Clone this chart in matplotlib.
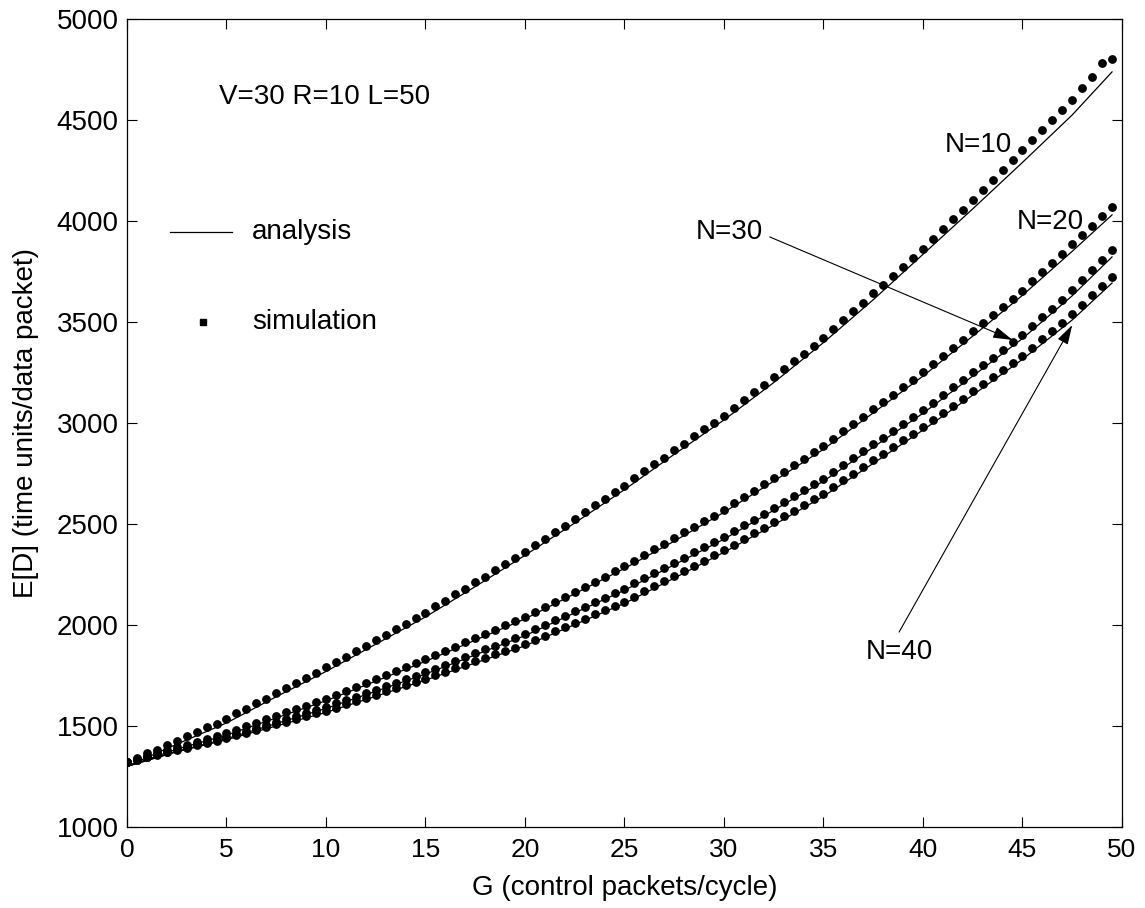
import numpy as np
import matplotlib
matplotlib.use('Agg')
import matplotlib.pyplot as plt

plt.rcParams['font.family'] = ['Liberation Sans', 'DejaVu Sans']

# simulation: G = 0, 0.5, ..., 49.5
G_SIM = np.arange(0, 50, 0.5)
SIM_N10 = [1322, 1340, 1365, 1383, 1408, 1428, 1450, 1470, 1495, 1512,
           1535, 1562, 1585, 1612, 1636, 1664, 1688, 1712, 1740, 1763,
           1790, 1818, 1843, 1872, 1898, 1925, 1952, 1980, 2005, 2034,
           2060, 2092, 2120, 2152, 2180, 2212, 2240, 2272, 2300, 2330,
           2360, 2395, 2426, 2460, 2492, 2525, 2558, 2592, 2624, 2658,
           2690, 2726, 2760, 2795, 2828, 2865, 2898, 2935, 2968, 3002,
           3035, 3075, 3112, 3152, 3190, 3228, 3266, 3306, 3342, 3382,
           3420, 3465, 3508, 3553, 3596, 3642, 3684, 3730, 3772, 3818,
           3860, 3910, 3958, 4008, 4056, 4106, 4154, 4204, 4252, 4302,
           4350, 4400, 4450, 4500, 4550, 4600, 4658, 4713, 4782, 4802]
SIM_N20 = [1322, 1336, 1351, 1365, 1379, 1394, 1408, 1422, 1436, 1451,
           1465, 1482, 1499, 1516, 1533, 1550, 1567, 1584, 1601, 1618,
           1635, 1655, 1674, 1694, 1713, 1733, 1752, 1772, 1791, 1811,
           1830, 1851, 1872, 1893, 1914, 1935, 1956, 1977, 1998, 2019,
           2040, 2065, 2090, 2115, 2140, 2165, 2190, 2215, 2240, 2265,
           2290, 2318, 2346, 2374, 2402, 2430, 2458, 2486, 2514, 2542,
           2570, 2602, 2633, 2665, 2696, 2728, 2759, 2791, 2822, 2854,
           2885, 2922, 2958, 2995, 3031, 3068, 3104, 3141, 3177, 3214,
           3250, 3291, 3331, 3372, 3412, 3453, 3493, 3534, 3574, 3615,
           3655, 3701, 3747, 3793, 3839, 3885, 3931, 3977, 4023, 4069]
SIM_N30 = [1322, 1334, 1347, 1359, 1372, 1384, 1396, 1409, 1421, 1434,
           1446, 1461, 1476, 1491, 1506, 1521, 1535, 1550, 1565, 1580,
           1595, 1612, 1629, 1646, 1663, 1680, 1697, 1714, 1731, 1748,
           1765, 1784, 1803, 1822, 1841, 1860, 1879, 1898, 1917, 1936,
           1955, 1978, 2000, 2023, 2045, 2068, 2090, 2113, 2135, 2158,
           2180, 2206, 2231, 2257, 2282, 2308, 2333, 2359, 2384, 2410,
           2435, 2464, 2493, 2522, 2551, 2580, 2609, 2638, 2667, 2696,
           2725, 2759, 2793, 2827, 2861, 2895, 2928, 2962, 2996, 3030,
           3064, 3101, 3138, 3176, 3213, 3250, 3287, 3324, 3362, 3399,
           3436, 3479, 3523, 3566, 3609, 3658, 3708, 3757, 3807, 3856]
SIM_N40 = [1322, 1334, 1346, 1357, 1369, 1381, 1393, 1405, 1416, 1428,
           1440, 1454, 1467, 1481, 1494, 1508, 1521, 1535, 1548, 1562,
           1575, 1591, 1607, 1623, 1639, 1655, 1671, 1687, 1703, 1719,
           1735, 1752, 1769, 1786, 1803, 1820, 1837, 1854, 1871, 1888,
           1905, 1926, 1947, 1968, 1989, 2010, 2031, 2052, 2073, 2094,
           2115, 2141, 2166, 2192, 2217, 2243, 2268, 2294, 2319, 2345,
           2370, 2398, 2426, 2454, 2482, 2510, 2538, 2566, 2594, 2622,
           2650, 2683, 2716, 2749, 2782, 2815, 2848, 2881, 2914, 2947,
           2980, 3015, 3050, 3086, 3121, 3156, 3191, 3226, 3262, 3297,
           3332, 3373, 3414, 3454, 3495, 3541, 3586, 3632, 3677, 3723]

# analysis curves
G_ANA = [0, 2.5, 5, 7.5, 10, 12.5, 15, 17.5, 20, 22.5, 25, 27.5, 30,
         32.5, 35, 37.5, 40, 42.5, 45, 47.5, 49.5]
ANA_N10 = [1300, 1410, 1515, 1645, 1770, 1905, 2040, 2190, 2345, 2505, 2670,
           2845, 3015, 3200, 3398, 3610, 3835, 4060, 4290, 4525, 4738]
ANA_N20 = [1300, 1385, 1455, 1540, 1625, 1722, 1820, 1925, 2030, 2155, 2280,
           2415, 2558, 2712, 2870, 3050, 3232, 3430, 3632, 3850, 4030]
ANA_N30 = [1300, 1375, 1437, 1512, 1587, 1672, 1757, 1852, 1947, 2060, 2172,
           2298, 2425, 2568, 2712, 2880, 3048, 3232, 3418, 3630, 3822]
ANA_N40 = [1300, 1372, 1432, 1500, 1567, 1647, 1727, 1812, 1897, 2002, 2107,
           2232, 2360, 2495, 2637, 2800, 2965, 3138, 3315, 3510, 3693]

FS = 20

fig = plt.figure(figsize=(11.45, 9.08), dpi=100)
ax = fig.add_axes([0.1109, 0.0892, 0.8690, 0.8899])

for ana in [ANA_N10, ANA_N20, ANA_N30, ANA_N40]:
    ax.plot(G_ANA, ana, color='black', linewidth=0.9)
for sim in [SIM_N10, SIM_N20, SIM_N30, SIM_N40]:
    ax.plot(G_SIM, sim, linestyle='none', marker='o', markersize=5.3,
            color='black')

ax.set_xlim(0, 50)
ax.set_ylim(1000, 5000)
ax.set_xticks(np.arange(0, 51, 5))
ax.set_yticks(np.arange(1000, 5001, 500))
ax.tick_params(direction='in', top=True, right=True, length=7, width=0.8,
               labelsize=FS)
ax.tick_params(axis='x', pad=8, labelsize=19)
ax.tick_params(axis='y', pad=6)
for s in ax.spines.values():
    s.set_linewidth(0.9)

ax.set_xlabel('G (control packets/cycle)', fontsize=FS)
ax.set_ylabel('E[D] (time units/data packet)', fontsize=FS)
ax.xaxis.set_label_coords(0.5, -0.06)
ax.yaxis.set_label_coords(-0.088, 0.5)

ax.text(4.6, 4614, 'V=30 R=10 L=50', fontsize=FS, va='center')
ax.plot([2.16, 5.28], [3946, 3946], color='black', linewidth=0.9)
ax.text(6.28, 3946, 'analysis', fontsize=FS, va='center')
ax.plot([3.82], [3500], marker='s', markersize=5, color='black')
ax.text(6.28, 3500, 'simulation', fontsize=FS, va='center')

ax.text(41.1, 4376, 'N=10', fontsize=FS, va='center')
ax.text(44.7, 3995, 'N=20', fontsize=FS, va='center')
ax.text(28.6, 3946, 'N=30', fontsize=FS, va='center')
ax.text(37.1, 1866, 'N=40', fontsize=FS, va='center')

arrow = dict(arrowstyle='-|>,head_length=1.2,head_width=0.35', color='black',
             lw=0.8, shrinkA=0, shrinkB=0)
ax.annotate('', xy=(44.5, 3411), xytext=(32.3, 3921), arrowprops=arrow)
ax.annotate('', xy=(47.5, 3485), xytext=(38.8, 1965), arrowprops=arrow)

fig.savefig('out.png', dpi=100)
